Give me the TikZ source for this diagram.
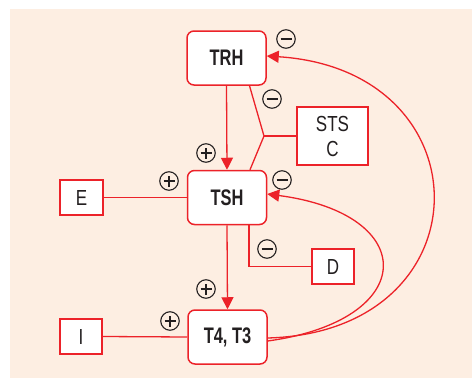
\documentclass[tikz,border=0pt]{standalone}
\usepackage{fontspec}
\newfontfamily\condb[FakeStretch=0.73]{Liberation Sans}
\newfontfamily\condr[FakeStretch=0.78]{Liberation Sans}
\usetikzlibrary{arrows.meta}
\definecolor{bg}{HTML}{FDEEE2}
\definecolor{rd}{HTML}{EC2229}
\definecolor{sg}{HTML}{231F20}
\tikzset{
  hormone/.style={draw=rd, line width=1.5pt, fill=white, rounded corners=7pt,
    minimum width=79pt, minimum height=54pt, inner sep=0pt,
    font=\condb\bfseries\fontsize{22.5}{24}\selectfont, text=sg},
  factor/.style={draw=rd, line width=1.5pt, fill=white, inner sep=0pt,
    font=\condr\fontsize{21.8}{25}\selectfont, text=sg, align=center},
  conn/.style={draw=rd, line width=1.3pt},
  arr/.style={conn, -{Triangle[length=12pt,width=12pt]}},
  signc/.style={circle, draw=sg, line width=1.1pt, minimum size=18.5pt, inner sep=0pt},
  signminus/.style={signc, path picture={\draw[sg, line width=1.5pt]
      ([xshift=-5.5pt]path picture bounding box.center) -- ([xshift=5.5pt]path picture bounding box.center);}},
  signplus/.style={signc, path picture={\draw[sg, line width=1.5pt]
      ([xshift=-5.5pt]path picture bounding box.center) -- ([xshift=5.5pt]path picture bounding box.center)
      ([yshift=-5.5pt]path picture bounding box.center) -- ([yshift=5.5pt]path picture bounding box.center);}},
}
\begin{document}
\begin{tikzpicture}[x=1pt, y=-1pt]
\useasboundingbox (0,0) rectangle (472,378);
\fill[bg] (10,9) rectangle (472,378);

% nodes
\node[hormone] (TRH) at (226.5,58) {TRH};
\node[hormone] (TSH) at (227,197.5) {TSH};
\node[hormone] (T4) at (227.5,337) {T4, T3};
\node[factor, minimum width=43pt, minimum height=35pt] (E) at (81.5,197.5) {E};
\node[factor, minimum width=42pt, minimum height=35pt] (I) at (81,336.5) {I};
\node[factor, minimum width=71pt, minimum height=58pt] (STS) at (332.5,136) {STS\\C};
\node[factor, minimum width=42pt, minimum height=35pt] (D) at (333,266.5) {D};
\coordinate (j) at (264,136);

% connectors
\draw[arr] (TRH.south) -- (TSH.north);
\draw[arr] (TSH.south) -- (T4.north);
\draw[conn] ([xshift=23pt]TRH.south) -- (j) -- ([xshift=23pt]TSH.north);
\draw[conn] (j) -- (STS.west);
\draw[conn] (E.east) -- (TSH.west);
\draw[conn] (I.east) -- (T4.west);
\draw[conn] ([xshift=22pt]TSH.south) |- (D.west);
\draw[arr] ([yshift=-4pt]T4.east) .. controls (420,320) and (420,214) .. ([yshift=3.5pt]TSH.east);
\draw[arr] ([yshift=-1pt]T4.east) .. controls (488,332) and (488,70) .. ([yshift=2pt]TRH.east);

% signs
\node[signminus] (s1) at (286,39) {};
\node[signminus] (s2) at (272,99) {};
\node[signplus] (s3) at (206,153) {};
\node[signplus] (s4) at (169,181) {};
\node[signminus] (s5) at (282,180) {};
\node[signminus] (s6) at (267,249) {};
\node[signplus] (s7) at (206,289) {};
\node[signplus] (s8) at (170,321) {};
\end{tikzpicture}
\end{document}
